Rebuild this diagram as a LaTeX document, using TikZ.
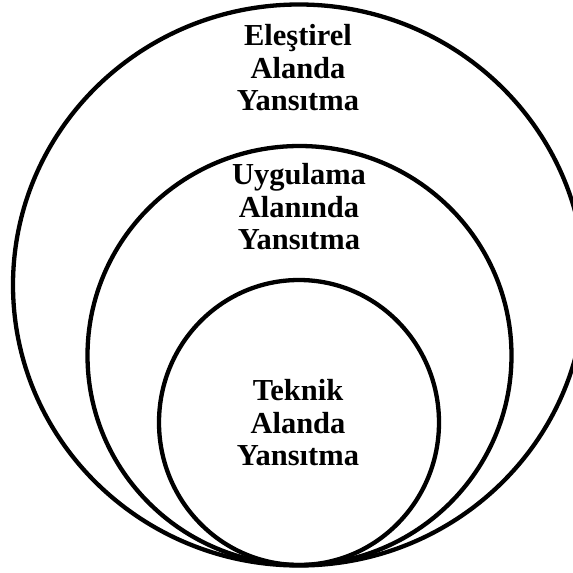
\documentclass[tikz,border=0pt]{standalone}
\usepackage{fontspec}
\setmainfont{Liberation Serif}
\newcommand{\ringtext}[1]{\begin{tabular}{@{}c@{}}#1\end{tabular}}
\begin{document}
\begin{tikzpicture}[x=1pt,y=-1pt,
  ring/.style={draw=black,line width=4.3pt},
  lbl/.style={align=center,font=\fontsize{30.5}{32.5}\selectfont\bfseries,inner sep=0pt}]
\useasboundingbox (0,0) rectangle (573,573);
\clip (0,0) rectangle (573,573);
\fill[white] (0,0) rectangle (573,573);
\draw[ring] (299,285) ellipse [x radius=286, y radius=280.5];
\draw[ring] (299.5,355.5) ellipse [x radius=212, y radius=209.5];
\draw[ring] (299,422.5) ellipse [x radius=140, y radius=142.5];
\node[lbl] (outer) at (298,71.5) {\ringtext{Eleştirel\\Alanda\\Yansıtma}};
\node[lbl] (middle) at (299,210.5) {\ringtext{Uygulama\\Alanında\\Yansıtma}};
\node[lbl] (inner) at (298,426.5) {\ringtext{Teknik\\Alanda\\Yansıtma}};
\end{tikzpicture}
\end{document}
